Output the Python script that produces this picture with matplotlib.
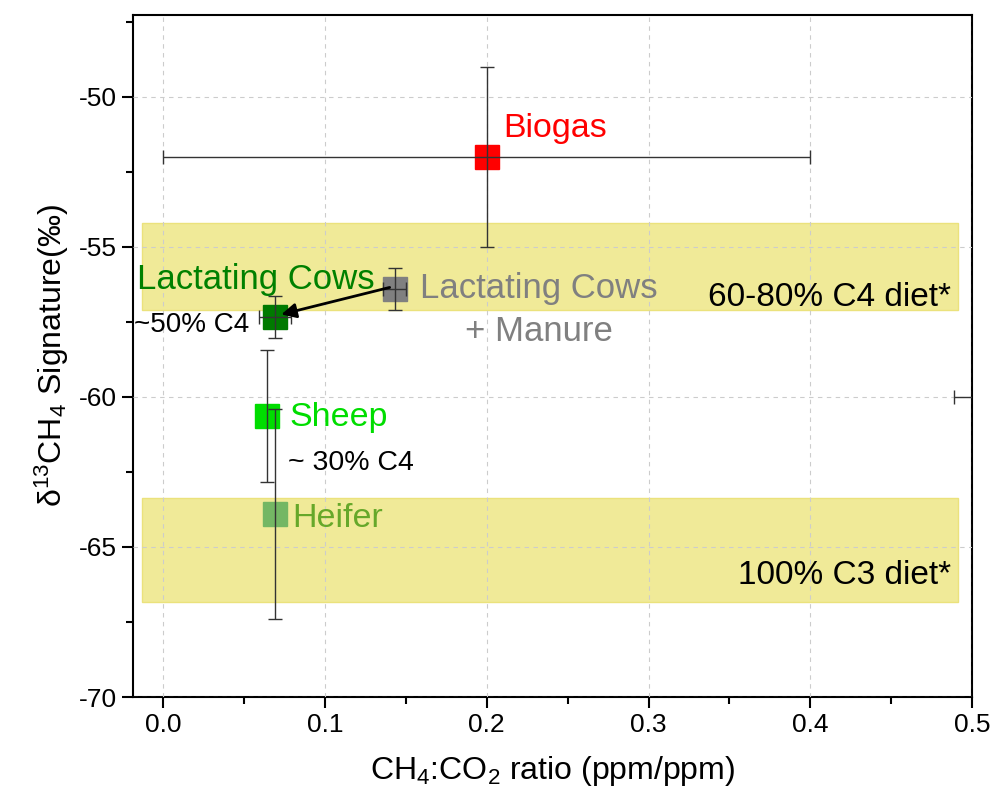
import numpy as np
import matplotlib as mpl
mpl.use("Agg")
import matplotlib.pyplot as plt
from matplotlib.patches import Rectangle

p = plt.rcParams
p["font.family"] = ["Liberation Sans", "DejaVu Sans"]
p["mathtext.fontset"] = "custom"
p["mathtext.rm"] = "Liberation Sans"
p["mathtext.it"] = "Liberation Sans:italic"
p["axes.linewidth"] = 1.5
p["axes.unicode_minus"] = False

# sources: CH4:CO2 ratio, d13C signature, error bars
names = ["Biogas", "Lactating Cows + Manure", "Lactating Cows", "Sheep", "Heifer"]
ratio = [0.200, 0.143, 0.069, 0.064, 0.069]
ratio_err = [0.200, 0.007, 0.010, 0.000, 0.000]
d13c = [-52.0, -56.4, -57.33, -60.63, -63.9]
d13c_err = [3.0, 0.7, 0.7, 2.2, 3.5]
marker_colors = ["#ff0000", "#808080", "#007a00", "#00dd00", "#74b764"]

# point lying just past the right edge of the ratio axis
far_ratio = [0.52]
far_ratio_err = [0.031]
far_d13c = [-60.0]

# diet bands (d13C top, bottom) and their labels
bands = [(-54.2, -57.1), (-63.37, -66.83)]
band_labels = ["60-80% C4 diet*", "100% C3 diet*"]
band_x = (-0.013, 0.491)

fig = plt.figure(figsize=(9.94, 8.10), dpi=100)
ax = fig.add_axes([0.134, 0.1395, 0.844, 0.842])

for top, bot in bands:
    ax.add_patch(Rectangle((band_x[0], bot), band_x[1] - band_x[0], top - bot,
                           facecolor="#f0ea98", edgecolor="#ebe27c", lw=1, zorder=1))

for x, xe, y, ye, c in zip(ratio, ratio_err, d13c, d13c_err, marker_colors):
    ax.plot(x, y, "s", ms=17, color=c, zorder=3)
    ax.errorbar(x, y, xerr=xe if xe > 0 else None, yerr=ye, fmt="none",
                ecolor="#333333", elinewidth=1, capsize=5, capthick=1, zorder=4)

ax.errorbar(far_ratio, far_d13c, xerr=far_ratio_err, fmt="none",
            ecolor="#333333", elinewidth=1, capsize=5, capthick=1, zorder=4)

# arrow from the cows + manure point to the cows point
ax.annotate("", xy=(ratio[2] + 0.004, d13c[2] + 0.08), xytext=(ratio[1] - 0.003, d13c[1] + 0.05),
            arrowprops=dict(arrowstyle="-|>", color="black", lw=2, mutation_scale=22,
                            shrinkA=0, shrinkB=0), zorder=5)

ax.text(0.21, -51.05, "Biogas", color="#ff0000", fontsize=24.5, va="center", ha="left")
ax.text(-0.016, -56.1, "Lactating Cows", color="#008000", fontsize=25, va="center", ha="left")
ax.text(-0.018, -57.6, "~50% C4", color="black", fontsize=20, va="center", ha="left")
ax.text(0.232, -57.1, "Lactating Cows\n+ Manure", color="#808080", fontsize=25,
        va="center", ha="center", linespacing=1.4)
ax.text(0.078, -60.7, "Sheep", color="#00dd00", fontsize=24.5, va="center", ha="left")
ax.text(0.077, -62.2, "~ 30% C4", color="black", fontsize=20.5, va="center", ha="left")
ax.text(0.080, -64.05, "Heifer", color="#66a82a", fontsize=24.5, va="center", ha="left")
ax.text(0.487, -56.67, band_labels[0], color="black", fontsize=24, va="center", ha="right")
ax.text(0.487, -65.95, band_labels[1], color="black", fontsize=24, va="center", ha="right")

ax.set_xlim(-0.0185, 0.5)
ax.set_ylim(-70, -47.27)
ax.set_xticks(np.arange(0, 0.51, 0.1))
ax.set_xticklabels(["0.0", "0.1", "0.2", "0.3", "0.4", "0.5"])
ax.set_xticks(np.arange(0.05, 0.5, 0.1), minor=True)
ax.set_yticks([-70, -65, -60, -55, -50])
ax.set_yticks([-67.5, -62.5, -57.5, -52.5, -47.5], minor=True)
ax.tick_params(axis="both", which="major", direction="out", length=8, width=1.5,
               labelsize=19, top=False, right=False)
ax.tick_params(axis="both", which="minor", direction="out", length=5, width=1.5,
               top=False, right=False)
ax.grid(True, which="major", color="#cccccc", ls=(0, (4, 4)), lw=0.8, zorder=2)
ax.set_axisbelow(False)

ax.set_xlabel(r"CH$_4$:CO$_2$ ratio (ppm/ppm)", fontsize=23, labelpad=12)
ax.set_ylabel(r"δ$^{13}$CH$_4$ Signature(‰)", fontsize=23, labelpad=6)

fig.savefig("out.png", dpi=100)
